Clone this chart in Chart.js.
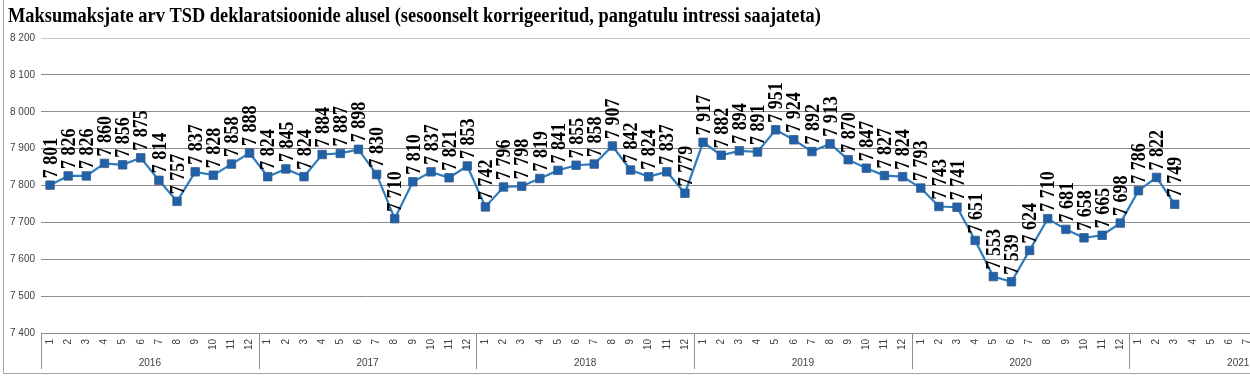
<!DOCTYPE html>
<html>
<head>
<meta charset="utf-8">
<script src="https://cdn.jsdelivr.net/npm/chart.js@4/dist/chart.umd.min.js"></script>
<style>
  html, body { margin: 0; padding: 0; background: #fff; overflow: hidden; }
  #wrap { position: relative; width: 1356px; height: 376px; }
</style>
</head>
<body>
<div id="wrap"><canvas id="js-chart-tsd"></canvas></div>
<script>
// Chart data
const chartTitle = 'Maksumaksjate arv TSD deklaratsioonide alusel (sesoonselt korrigeeritud, pangatulu intressi saajateta)';
const years = ['2016', '2017', '2018', '2019', '2020', '2021'];
const months = ['1', '2', '3', '4', '5', '6', '7', '8', '9', '10', '11', '12'];
const yTicks = [7400, 7500, 7600, 7700, 7800, 7900, 8000, 8100, 8200];

const values2016 = [7801, 7826, 7826, 7860, 7856, 7875, 7814, 7757, 7837, 7828, 7858, 7888];
const values2017 = [7824, 7845, 7824, 7884, 7887, 7898, 7830, 7710, 7810, 7837, 7821, 7853];
const values2018 = [7742, 7796, 7798, 7819, 7841, 7855, 7858, 7907, 7842, 7824, 7837, 7779];
const values2019 = [7917, 7882, 7894, 7891, 7951, 7924, 7892, 7913, 7870, 7847, 7827, 7824];
const values2020 = [7793, 7743, 7741, 7651, 7553, 7539, 7624, 7710, 7681, 7658, 7665, 7698];
const values2021 = [7786, 7822, 7749, null, null, null, null, null, null, null, null, null];

// Build category labels and the series
let labels = [];
years.forEach(function (y) {
  months.forEach(function (m) { labels.push(m); });
});
let series = [].concat(values2016, values2017, values2018, values2019, values2020, values2021);

function fmt(v) {
  return String(v).replace(/\B(?=(\d{3})+(?!\d))/g, ' ');
}

const gridDark = '#8e8e8e';
const gridLight = '#c6c6c6';
const axisText = '#404040';

// Title, rotated value labels, year band, outer frame
const tsdPlugin = {
  id: 'tsdPlugin',
  beforeDraw: function (chart) {
    const ctx = chart.ctx;
    ctx.save();
    ctx.fillStyle = '#000';
    ctx.font = 'bold 18.4px "Liberation Serif"';
    ctx.textAlign = 'left';
    ctx.textBaseline = 'middle';
    ctx.translate(8, 17);
    ctx.scale(1, 1.1);
    ctx.fillText(chartTitle, 0, 0);
    ctx.restore();
  },
  afterDatasetsDraw: function (chart) {
    const ctx = chart.ctx;
    const meta = chart.getDatasetMeta(0);
    ctx.save();
    ctx.fillStyle = '#000';
    ctx.font = 'bold 18px "Liberation Serif"';
    ctx.textAlign = 'left';
    ctx.textBaseline = 'middle';
    meta.data.forEach(function (pt, i) {
      const v = series[i];
      if (v === null) return;
      ctx.save();
      ctx.translate(pt.x + 1, pt.y - 7);
      ctx.rotate(-Math.PI / 2);
      ctx.scale(1, 1.22);
      ctx.fillText(fmt(v), 0, 0);
      ctx.restore();
    });
    ctx.restore();
  },
  afterDraw: function (chart) {
    const ctx = chart.ctx;
    const xs = chart.scales.x;
    const area = chart.chartArea;
    const step = xs.width / labels.length;
    ctx.save();
    ctx.strokeStyle = gridDark;
    ctx.lineWidth = 1;
    ctx.fillStyle = axisText;
    ctx.font = '10px "Liberation Sans"';
    ctx.textAlign = 'center';
    ctx.textBaseline = 'middle';
    for (let k = 0; k <= years.length; k++) {
      const x = Math.round(xs.left + k * months.length * step) + 0.5;
      ctx.beginPath();
      ctx.moveTo(x, area.bottom);
      ctx.lineTo(x, area.bottom + 36);
      ctx.stroke();
    }
    years.forEach(function (y, k) {
      const a = xs.getPixelForValue(k * months.length);
      const b = xs.getPixelForValue(k * months.length + months.length - 1);
      ctx.fillText(y, (a + b) / 2, area.bottom + 30);
    });
    // outer frame
    ctx.strokeStyle = '#a6a6a6';
    ctx.strokeRect(3.5, -2, chart.width - 8, 375.5);
    ctx.restore();
  }
};

let chartCon = document.getElementById('js-chart-tsd');

let chartData = {
  labels: labels,
  datasets: [
    {
      label: 'Maksumaksjate arv',
      data: series,
      borderColor: '#2e7bbd',
      borderWidth: 2.2,
      backgroundColor: '#1f62aa',
      pointStyle: 'rect',
      pointRadius: 6,
      pointBackgroundColor: '#1f62aa',
      pointBorderColor: '#3a5a88',
      pointBorderWidth: 0.8,
      tension: 0,
      spanGaps: false
    }
  ]
};

let chartOptions = {
  responsive: false,
  animation: false,
  devicePixelRatio: 1,
  layout: {
    padding: {top: 38, right: 6, left: 0, bottom: 0}
  },
  scales: {
    x: {
      type: 'category',
      offset: true,
      border: {display: false},
      grid: {display: false, drawTicks: false},
      afterFit: function (scale) { scale.height = 43; },
      ticks: {
        autoSkip: false,
        maxRotation: 90,
        minRotation: 90,
        padding: 6,
        color: axisText,
        font: {family: '"Liberation Sans"', size: 10}
      }
    },
    y: {
      min: 7400,
      max: 8200,
      border: {display: false},
      afterFit: function (scale) { scale.width = 41; },
      afterBuildTicks: function (scale) {
        scale.ticks = yTicks.map(function (v) { return {value: v}; });
      },
      grid: {
        drawTicks: false,
        lineWidth: 1,
        color: function (ctx) {
          return ctx.tick && ctx.tick.value === 8200 ? gridLight : gridDark;
        }
      },
      ticks: {
        padding: 6,
        color: axisText,
        font: {family: '"Liberation Sans"', size: 10},
        callback: function (v) { return fmt(v); }
      }
    }
  },
  plugins: {
    legend: {display: false},
    tooltip: {enabled: false}
  }
};

chartCon.width = 1356;
chartCon.height = 376;
new Chart(chartCon, {type: 'line', data: chartData, options: chartOptions, plugins: [tsdPlugin]});
</script>
</body>
</html>
